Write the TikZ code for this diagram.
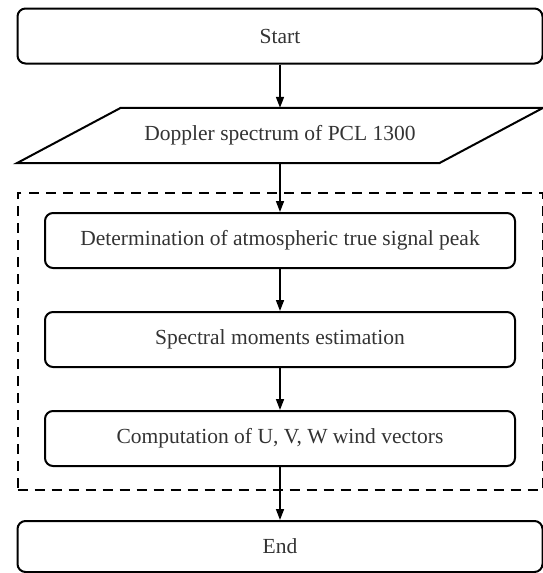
\documentclass[tikz,border=0pt]{standalone}
\usepackage{fontspec}
\setmainfont{Liberation Serif}
\usetikzlibrary{arrows.meta}
\begin{document}
\begin{tikzpicture}[x = 1pt, y = -1pt, font = \fontsize{21.5}{25}\selectfont,
		box/.style = {draw, line width = 2pt, rounded corners = 8pt, minimum height = 55pt, text = black!80},
		io/.style = {minimum width = 422pt, minimum height = 55pt, text = black!80},
		group/.style = {draw, line width = 2pt, dash pattern = on 10pt off 7pt, minimum width = 525pt, minimum height = 297pt},
		flow/.style = {-{Triangle[length = 11pt, width = 8pt]}, line width = 1.6pt}]
	\useasboundingbox (0,0) rectangle (543,573);
	\node[group] (proc) at (280,341.5) {}; %dashed processing block
	\node[box, minimum width = 525pt] (start) at (280,36) {Start};
	\node[io] (doppler) at (280,135.5) {Doppler spectrum of PCL 1300};
	\draw[line width = 2pt] ([xshift = -52pt]doppler.south west) -- ([xshift = -52pt]doppler.south east)
		-- ([xshift = 52pt]doppler.north east) -- ([xshift = 52pt]doppler.north west) -- cycle; %input parallelogram
	\node[box, minimum width = 470pt] (peak) at (280,240.5) {Determination of atmospheric true signal peak};
	\node[box, minimum width = 470pt] (moments) at (280,339.5) {Spectral moments estimation};
	\node[box, minimum width = 470pt] (wind) at (280,438.5) {Computation of U, V, W wind vectors};
	\node[box, minimum width = 525pt, minimum height = 51pt] (stop) at (280,546.5) {End};
	\draw[flow] (start) -- (doppler);
	\draw[flow] (doppler) -- (peak);
	\draw[flow] (peak) -- (moments);
	\draw[flow] (moments) -- (wind);
	\draw[flow] (wind) -- (stop);
\end{tikzpicture}
\end{document}
